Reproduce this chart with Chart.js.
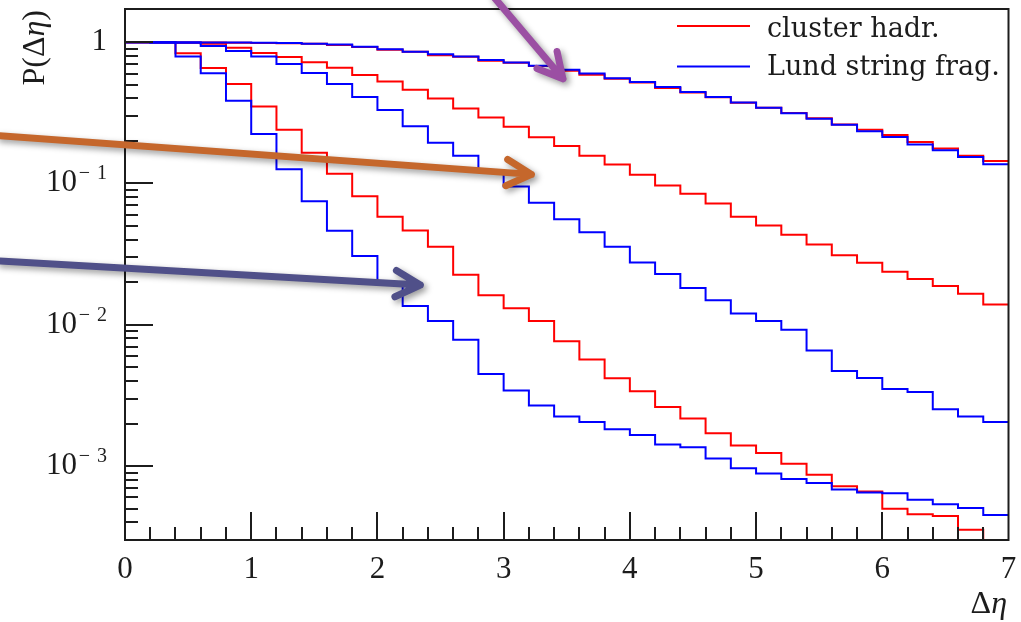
<!DOCTYPE html>
<html>
<head>
<meta charset="utf-8">
<script src="https://cdn.jsdelivr.net/npm/chart.js@4.4.1/dist/chart.umd.min.js"></script>
<style>
  html, body { margin: 0; padding: 0; background: #fff; }
  #chart { display: block; }
</style>
</head>
<body>
<canvas id="chart" width="1021" height="622"></canvas>
<script>
// bin edges of the Delta-eta histograms (35 bins of 0.2)
var binEdges = [0.0, 0.2, 0.4, 0.6, 0.8, 1.0, 1.2, 1.4, 1.6, 1.8,
                2.0, 2.2, 2.4, 2.6, 2.8, 3.0, 3.2, 3.4, 3.6, 3.8,
                4.0, 4.2, 4.4, 4.6, 4.8, 5.0, 5.2, 5.4, 5.6, 5.8,
                6.0, 6.2, 6.4, 6.6, 6.8, 7.0];

// upper pair
var clusterHadrA = [1.0, 0.997, 0.995, 0.993, 0.99, 0.987, 0.984, 0.975, 0.955, 0.925,
                    0.885, 0.855, 0.808, 0.788, 0.738, 0.715, 0.678, 0.628, 0.589, 0.55,
                    0.518, 0.474, 0.44, 0.408, 0.373, 0.343, 0.315, 0.289, 0.262, 0.24,
                    0.22, 0.197, 0.177, 0.157, 0.144];
var lundStringA = [1.0, 0.998, 0.997, 0.995, 0.993, 0.99, 0.987, 0.975, 0.962, 0.929,
                   0.89, 0.857, 0.821, 0.791, 0.749, 0.719, 0.68, 0.638, 0.6, 0.556,
                   0.522, 0.481, 0.444, 0.41, 0.374, 0.344, 0.314, 0.287, 0.26, 0.234,
                   0.213, 0.189, 0.172, 0.154, 0.137];
// middle pair
var clusterHadrB = [1.0, 0.998, 0.99, 0.975, 0.914, 0.84, 0.785, 0.722, 0.658, 0.586,
                    0.526, 0.461, 0.399, 0.34, 0.293, 0.252, 0.212, 0.184, 0.157, 0.136,
                    0.1155, 0.0969, 0.0847, 0.0722, 0.0582, 0.0504, 0.0434, 0.037, 0.031, 0.0275,
                    0.0237, 0.0211, 0.0188, 0.0166, 0.0139];
var lundStringB = [1.0, 0.998, 0.99, 0.938, 0.866, 0.791, 0.7, 0.605, 0.505, 0.41,
                   0.331, 0.254, 0.194, 0.157, 0.121, 0.0953, 0.073, 0.0558, 0.0451, 0.0356,
                   0.0276, 0.0229, 0.0182, 0.0149, 0.012, 0.01064, 0.00922, 0.00658, 0.00472, 0.0042,
                   0.00352, 0.00334, 0.00253, 0.00224, 0.00205];
// lower pair
var clusterHadrC = [1.0, 0.995, 0.834, 0.656, 0.505, 0.351, 0.24, 0.165, 0.117, 0.0813,
                    0.0582, 0.0465, 0.0356, 0.0226, 0.0162, 0.0131, 0.01065, 0.00764, 0.00567, 0.00418,
                    0.00339, 0.00262, 0.00217, 0.00171, 0.0014, 0.00124, 0.00104, 0.000868, 0.00072, 0.00066,
                    0.0005, 0.000457, 0.000443, 0.000354, 0.0003];
var lundStringC = [1.0, 0.99, 0.791, 0.603, 0.385, 0.224, 0.126, 0.075, 0.0463, 0.0307,
                   0.0194, 0.0136, 0.01064, 0.00785, 0.00448, 0.00343, 0.00268, 0.00224, 0.00205, 0.00182,
                   0.00166, 0.00142, 0.00136, 0.00113, 0.000966, 0.000887, 0.00081, 0.000759, 0.000683, 0.00065,
                   0.000643, 0.000578, 0.000537, 0.000506, 0.00045];

var legendLabels = ['cluster hadr.', 'Lund string frag.'];
var xTickValues = [0, 1, 2, 3, 4, 5, 6, 7];
var yTickValues = [1, 0.1, 0.01, 0.001];
var yTickBase = ['1', '10', '10', '10'];
var yTickExp = ['', '\u22121', '\u22122', '\u22123'];

// annotation arrows, given in data units (Delta eta, P)
var arrows = [
  { from: [2.91, 2.15], to: [3.47, 0.55], color: '#9b4fa3' },
  { from: [-1.0, 0.218], to: [3.22, 0.116], color: '#c5672c' },
  { from: [-1.0, 0.0283], to: [2.34, 0.0191], color: '#505089' }
];

var RED = '#ff0000', BLUE = '#0000ff', INK = '#1c1c1c';

function histPoints(vals) {
  // one point per bin edge, last edge repeats the last bin
  return binEdges.map(function (x, i) {
    return { x: x, y: vals[Math.min(i, vals.length - 1)] };
  });
}

function histSet(label, vals, color, order) {
  return {
    label: label,
    data: histPoints(vals),
    borderColor: color,
    backgroundColor: color,
    borderWidth: 2,
    pointRadius: 0,
    stepped: true,
    fill: false,
    order: order
  };
}

var rootStyle = {
  id: 'rootStyle',
  afterDatasetsDraw: function (chart) {
    var ctx = chart.ctx, a = chart.chartArea;
    var xs = chart.scales.x, ys = chart.scales.y;
    ctx.save();
    ctx.strokeStyle = INK;
    ctx.fillStyle = INK;
    ctx.lineWidth = 2;

    // ticks on the y axis
    ctx.beginPath();
    for (var n = -4; n <= 0; n++) {
      for (var k = 1; k <= 9; k++) {
        var v = k * Math.pow(10, n);
        if (v <= ys.min || v >= ys.max) continue;
        var py = Math.round(ys.getPixelForValue(v));
        ctx.moveTo(a.left, py);
        ctx.lineTo(a.left + (k === 1 ? 28 : 13), py);
      }
    }
    // ticks on the x axis
    for (var i = 1; i < 35; i++) {
      var px = Math.round(xs.getPixelForValue(i / 5));
      ctx.moveTo(px, a.bottom);
      ctx.lineTo(px, a.bottom - (i % 5 === 0 ? 28 : 13));
    }
    ctx.stroke();

    // frame
    ctx.strokeRect(a.left, a.top, a.right - a.left, a.bottom - a.top);

    // x tick labels
    ctx.font = '31px "Liberation Serif"';
    ctx.textAlign = 'center';
    ctx.textBaseline = 'alphabetic';
    xTickValues.forEach(function (v) {
      ctx.fillText(String(v), xs.getPixelForValue(v), 578);
    });

    // y tick labels
    yTickValues.forEach(function (v, j) {
      var py = ys.getPixelForValue(v);
      ctx.textAlign = 'right';
      if (yTickExp[j] === '') {
        ctx.font = '31px "Liberation Serif"';
        ctx.fillText(yTickBase[j], 107, py + 8);
      } else {
        ctx.font = '31px "Liberation Serif"';
        ctx.fillText(yTickBase[j], 77, py + 8);
        ctx.font = '20px "Liberation Serif"';
        ctx.fillText(yTickExp[j].slice(1), 107, py - 4);
        ctx.fillText(yTickExp[j].slice(0, 1), 90, py - 4);
      }
    });

    // axis titles
    ctx.textAlign = 'right';
    ctx.font = '32px "Liberation Serif"';
    var etaW = ctx.measureText('\u03b7').width;
    ctx.font = 'italic 32px "Liberation Serif"';
    var etaWi = ctx.measureText('\u03b7').width;
    ctx.fillText('\u03b7', 1007, 613);
    ctx.font = '32px "Liberation Serif"';
    ctx.fillText('\u0394', 1007 - etaWi, 613);

    ctx.save();
    ctx.translate(44, 10);
    ctx.rotate(-Math.PI / 2);
    ctx.textAlign = 'right';
    ctx.fillText(')', 0, 0);
    var w = ctx.measureText(')').width;
    ctx.font = 'italic 32px "Liberation Serif"';
    ctx.fillText('\u03b7', -w, 0);
    w += ctx.measureText('\u03b7').width;
    ctx.font = '32px "Liberation Serif"';
    ctx.fillText('P(\u0394', -w, 0);
    ctx.restore();

    // legend
    var colors = [RED, BLUE];
    var rows = [26, 66.5], base = [37, 75];
    ctx.font = '27px "DejaVu Serif"';
    ctx.textAlign = 'left';
    legendLabels.forEach(function (lab, j) {
      ctx.strokeStyle = colors[j];
      ctx.beginPath();
      ctx.moveTo(677, rows[j]);
      ctx.lineTo(750, rows[j]);
      ctx.stroke();
      ctx.fillStyle = INK;
      ctx.fillText(lab, 767, base[j]);
    });
    ctx.restore();
  },
  afterDraw: function (chart) {
    var ctx = chart.ctx, xs = chart.scales.x, ys = chart.scales.y;
    ctx.save();
    ctx.lineWidth = 7;
    ctx.lineCap = 'round';
    ctx.lineJoin = 'round';
    ctx.shadowColor = 'rgba(0,0,0,0.4)';
    ctx.shadowBlur = 6;
    ctx.shadowOffsetX = 3;
    ctx.shadowOffsetY = 3;
    arrows.forEach(function (ar) {
      var x0 = xs.getPixelForValue(ar.from[0]), y0 = ys.getPixelForValue(ar.from[1]);
      var x1 = xs.getPixelForValue(ar.to[0]), y1 = ys.getPixelForValue(ar.to[1]);
      var ang = Math.atan2(y0 - y1, x0 - x1);
      var len = 28, half = 28 * Math.PI / 180;
      ctx.strokeStyle = ar.color;
      ctx.beginPath();
      ctx.moveTo(x0, y0);
      ctx.lineTo(x1, y1);
      ctx.moveTo(x1 + len * Math.cos(ang + half), y1 + len * Math.sin(ang + half));
      ctx.lineTo(x1, y1);
      ctx.lineTo(x1 + len * Math.cos(ang - half), y1 + len * Math.sin(ang - half));
      ctx.stroke();
    });
    ctx.restore();
  }
};

new Chart(document.getElementById('chart'), {
  type: 'line',
  data: {
    datasets: [
      histSet(legendLabels[0], clusterHadrA, RED, 2),
      histSet(legendLabels[0], clusterHadrB, RED, 2),
      histSet(legendLabels[0], clusterHadrC, RED, 2),
      histSet(legendLabels[1], lundStringA, BLUE, 1),
      histSet(legendLabels[1], lundStringB, BLUE, 1),
      histSet(legendLabels[1], lundStringC, BLUE, 1)
    ]
  },
  options: {
    responsive: false,
    animation: false,
    devicePixelRatio: 1,
    layout: { padding: { left: 125, top: 9, right: 12.5, bottom: 82 } },
    plugins: { legend: { display: false }, tooltip: { enabled: false } },
    elements: { line: { tension: 0, borderJoinStyle: 'miter' } },
    scales: {
      x: { type: 'linear', min: 0, max: 7, display: false },
      y: { type: 'logarithmic', min: 3.44e-4, max: 1.717, display: false }
    }
  },
  plugins: [rootStyle]
});
</script>
</body>
</html>
